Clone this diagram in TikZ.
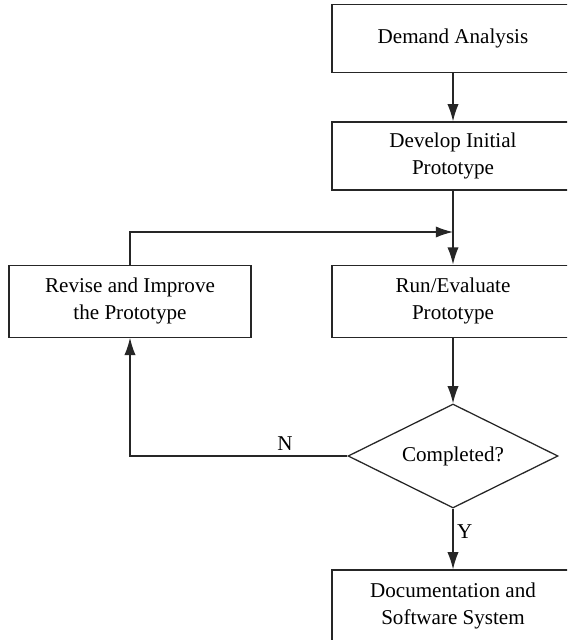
\documentclass[tikz,border=0pt]{standalone}
\usepackage{fontspec}
\setmainfont{Liberation Serif}
\usetikzlibrary{shapes.geometric,arrows.meta}
\tikzset{stepbox/.style={draw=black!85,line width=0.9pt,minimum width=6.05cm,
   minimum height=1.7cm,align=center,font=\fontsize{15}{19}\selectfont},
 check/.style={diamond,draw=black!85,line width=0.9pt,minimum width=5.25cm,
   minimum height=2.6cm,shape aspect=2,inner sep=0pt,font=\fontsize{15}{19}\selectfont},
 flow/.style={draw=black!85,line width=0.9pt,-{Latex[length=4.3mm,width=2.8mm]}},
 tag/.style={font=\fontsize{15}{19}\selectfont},
 }

\begin{document}
\begin{tikzpicture}
        \clip (0,0) rectangle (14.175,-16);
        \node[stepbox] (demand) at (11.325,-0.96) {Demand Analysis};
        \node[stepbox] (develop) at (11.325,-3.9) {Develop Initial\\Prototype};
        \node[stepbox,minimum height=1.8cm] (run) at (11.325,-7.53) {Run/Evaluate\\Prototype};
        \node[stepbox,minimum height=1.8cm] (revise) at (3.25,-7.53) {Revise and Improve\\the Prototype};
        \node[check] (done) at (11.325,-11.4) {Completed?};
        \node[stepbox,minimum height=1.8cm] (docs) at (11.325,-15.15) {Documentation and\\Software System};
        \coordinate (join) at (11.325,-5.8);
        \draw[flow] (demand) -- (develop);
        \draw[flow] (develop) -- (run);
        \draw[flow] (revise.north) |- (join);
        \draw[flow] (run) -- (done);
        \draw[flow] (done.west) -| (revise.south);
        \draw[flow] (done) -- (docs);
        \node[tag] (no) at (7.125,-11.1) {N};
        \node[tag] (yes) at (11.62,-13.3) {Y};
    \end{tikzpicture}
\end{document}
